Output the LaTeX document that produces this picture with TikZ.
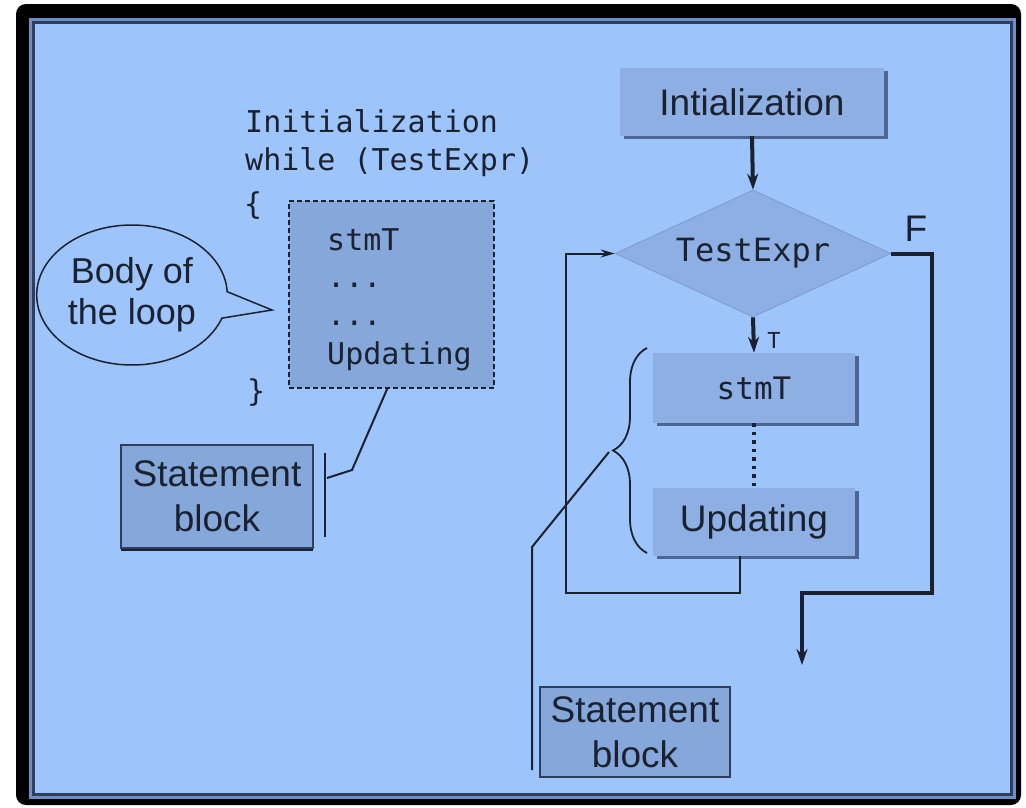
\documentclass[tikz,border=0pt]{standalone}
\usepackage{fontspec}
\newfontfamily\sansf{Liberation Sans}
\newfontfamily\monof{DejaVu Sans Mono}
\usetikzlibrary{arrows.meta,shapes.geometric,shapes.callouts,decorations.pathreplacing,shadows}

\definecolor{paper}{HTML}{9EC4FC}
\definecolor{boxfill}{HTML}{8DAFE4}
\definecolor{blockfill}{HTML}{86A7DA}
\definecolor{shadowc}{HTML}{4C6594}
\definecolor{inkc}{HTML}{1A2230}
\definecolor{framemid}{HTML}{6F8EC4}
\definecolor{framedark}{HTML}{2E3F5E}

\tikzset{
  sanstext/.style={font=\sansf\fontsize{37}{45}\selectfont, text=inkc},
  monotext/.style={font=\monof\fontsize{30}{36}\selectfont, text=inkc},
  flowbox/.style={sanstext, fill=boxfill, inner sep=0pt,
    drop shadow={shadow xshift=4pt, shadow yshift=-3pt, fill=shadowc, opacity=1}},
  decision/.style={diamond, aspect=2.17, fill=boxfill, draw=boxfill!85!black,
    line width=0.6pt, inner sep=0pt, minimum width=276pt, minimum height=127pt,
    font=\monof\fontsize{32}{38}\selectfont, text=inkc},
  blockbox/.style={sanstext, align=center, fill=blockfill, draw=framedark,
    line width=1.5pt, inner sep=0pt},
  codebox/.style={fill=blockfill, draw=inkc, line width=1.6pt,
    dash pattern=on 5pt off 3pt, inner sep=0pt},
  codeline/.style={monotext, anchor=base west, inner sep=0pt},
  heavyline/.style={draw=inkc, line width=4pt},
  thinline/.style={draw=inkc, line width=2pt},
  bigtip/.style={-{Stealth[length=16pt,width=11pt]}},
  smalltip/.style={-{Stealth[length=14pt,width=8pt]}},
}

\begin{document}
\begin{tikzpicture}[x=1pt,y=-1pt]
\useasboundingbox (0,0) rectangle (1026,807);

% framed panel
\fill[black, rounded corners=10pt] (16,4) rectangle (1021,805);
\fill[framemid] (29,18) rectangle (1016,799);
\filldraw[fill=paper, draw=framedark, line width=3pt] (33,22.5) rectangle (1011.5,794.5);

% ---------- code listing (left) ----------
\node[codeline] (c1) at (245,132) {Initialization};
\node[codeline] (c2) at (245,170) {while (TestExpr)};
\node[codeline] (c3) at (244,214) {\{};
\node[codeline] (c4) at (247,401) {\}};

\node[codebox, minimum width=205pt, minimum height=187pt] (body) at (391.5,294.5) {};
\node[codeline] (b1) at (327,250) {stmT};
\node[codeline] (b2) at (327,287) {...};
\node[codeline] (b3) at (327,325) {...};
\node[codeline] (b4) at (327,364) {Updating};

\node[ellipse callout, draw=inkc, line width=1.5pt, fill=paper,
      minimum width=190pt, minimum height=140pt,
      callout absolute pointer={(272,310)}, callout pointer arc=22,
      sanstext, align=center, font=\sansf\fontsize{36}{41}\selectfont]
      (bubble) at (132,295) {Body of\\the loop};

\node[blockbox, minimum width=192pt, minimum height=103pt,
      drop shadow={shadow xshift=0pt, shadow yshift=-3pt, fill=inkc, opacity=1}]
      (sbl) at (217,496.5) {Statement\\block};

\coordinate (bodyfoot) at ([xshift=99pt]body.south west);
\coordinate (sblbend) at (352,470);
\coordinate (sbltick) at (327,478);
\coordinate (sbltop) at (325,453);
\coordinate (sblbot) at (325,537);
\draw[thinline] (bodyfoot) -- (sblbend) -- (sbltick);
\draw[thinline] (sbltop) -- (sblbot);

% ---------- flowchart (right) ----------
\node[flowbox, minimum width=264pt, minimum height=68pt] (init) at (752,102) {Intialization};
\node[decision] (test) at (753,253.5) {TestExpr};
\node[flowbox, minimum width=202pt, minimum height=70pt,
      font=\monof\fontsize{31}{36}\selectfont] (stmt) at (754,388) {stmT};
\node[flowbox, minimum width=202pt, minimum height=68pt] (upd) at (754,522) {Updating};
\node[sanstext, inner sep=0pt] (flab) at (916,229) {F};
\node[monotext, font=\monof\fontsize{22}{26}\selectfont, inner sep=0pt] (tlab) at (774,340) {T};

\draw[heavyline, bigtip] (init.south) -- (test.north);
\draw[heavyline, bigtip] (test.south) -- (stmt.north);
\draw[draw=inkc, line width=4pt, dash pattern=on 3.5pt off 5pt] (stmt.south) -- (upd.north);

\coordinate (exitend) at (802,665);
\draw[heavyline, bigtip] (test.east) -- (932,253.5) -- (932,593) -- (802,593) -- (exitend);

\coordinate (loopleft) at (566,593);
\draw[thinline, smalltip] ([xshift=-14pt]upd.south) |- (loopleft) |- (test.west);

% brace grouping the loop body
\coordinate (brbot) at (647,553);
\coordinate (brtop) at (647,348);
\draw[draw=inkc, line width=1.8pt, decorate,
      decoration={brace, amplitude=34pt}] (brbot) -- (brtop);
\coordinate (brtip) at (609,452);
\coordinate (sbrbend) at (532,547);
\coordinate (sbrend) at (532,770);
\draw[thinline] (brtip) -- (sbrbend) -- (sbrend);

\node[blockbox, minimum width=190pt, minimum height=90pt] (sbr) at (635,732) {Statement\\block};
\end{tikzpicture}
\end{document}
